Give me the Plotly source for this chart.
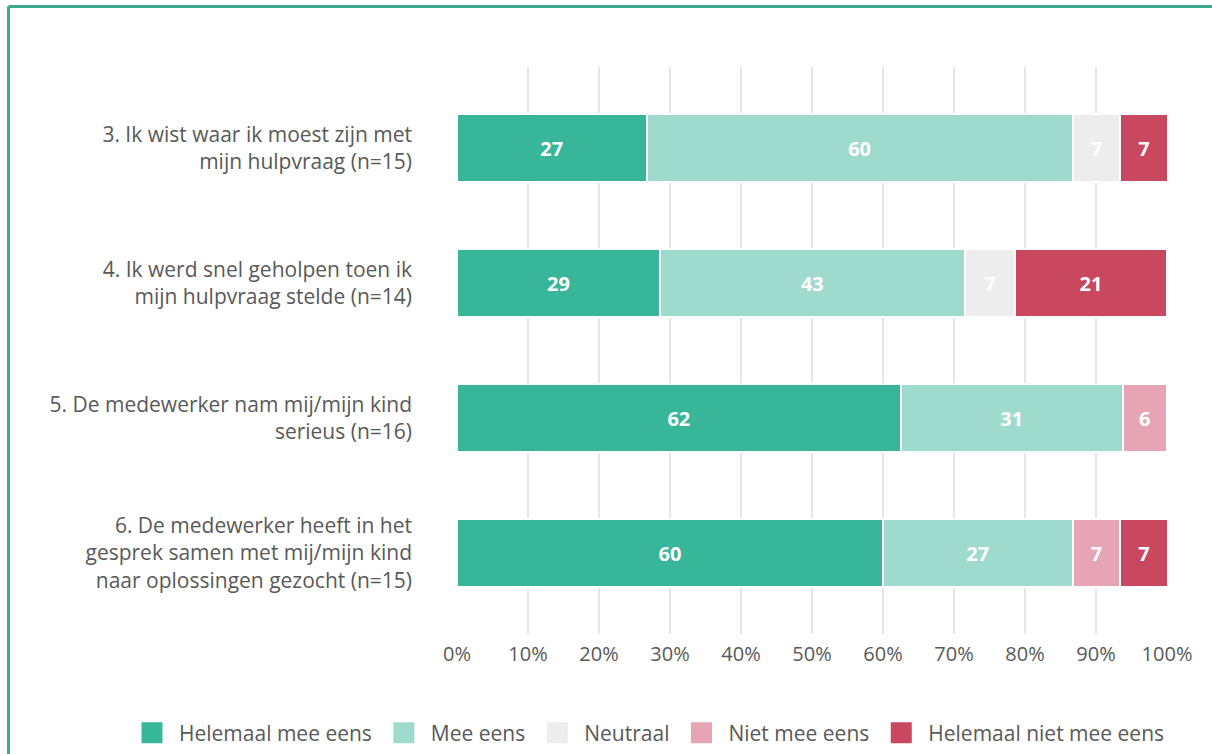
import plotly.graph_objects as go

categories = [
    "3. Ik wist waar ik moest zijn met<br>mijn hulpvraag (n=15)",
    "4. Ik werd snel geholpen toen ik<br>mijn hulpvraag stelde (n=14)",
    "5. De medewerker nam mij/mijn kind<br>serieus (n=16)",
    "6. De medewerker heeft in het<br>gesprek samen met mij/mijn kind<br>naar oplossingen gezocht (n=15)",
]
series_names = ["Helemaal mee eens", "Mee eens", "Neutraal", "Niet mee eens", "Helemaal niet mee eens"]
helemaal_mee_eens = [26.7, 28.6, 62.5, 60.0]
mee_eens = [60.0, 42.9, 31.25, 26.7]
neutraal = [6.7, 7.1, 0, 0]
niet_mee_eens = [0, 0, 6.25, 6.7]
helemaal_niet_mee_eens = [6.7, 21.4, 0, 6.7]
colors = ["#38b699", "#9fdbcd", "#ededed", "#e6a4b4", "#c9475f"]
x_ticks = [0, 10, 20, 30, 40, 50, 60, 70, 80, 90, 100]
x_ticklabels = [f"{t}%" for t in x_ticks]

FONT = "Open Sans"
GRAY = "#595959"
W, H = 1212, 754

fig = go.Figure()
for name, vals, col in zip(series_names,
                           [helemaal_mee_eens, mee_eens, neutraal, niet_mee_eens, helemaal_niet_mee_eens],
                           colors):
    fig.add_trace(go.Bar(
        name=name, y=categories, x=vals, orientation="h", legendgroup=name, showlegend=False,
        marker=dict(color=col, line=dict(color="white", width=2)),
        text=[str(round(v)) if v > 0 else "" for v in vals],
        textposition="inside", insidetextanchor="middle", textangle=0,
        constraintext="none",
        insidetextfont=dict(family=FONT, size=20, color="white", weight="bold"),
        hoverinfo="skip",
    ))
# legend entries with larger square swatches (no data of their own)
for name, col in zip(series_names, colors):
    fig.add_trace(go.Scatter(
        name=name, x=[None], y=[None], mode="markers", legendgroup=name, showlegend=True,
        marker=dict(symbol="square", size=16, color=col, line=dict(color=col, width=5)),
        hoverinfo="skip",
    ))

# pixel -> paper helpers for the frame and legend
L, R, T, B = 457, 1167, 67, 634
def px(x):
    return (x - L) / (R - L)
def py(y):
    return (B - y) / (B - T)

border_col = "#3aa98b"
fig.add_shape(type="line", xref="paper", yref="paper", x0=px(8.5), x1=px(1215), y0=py(6.5), y1=py(6.5),
              line=dict(color=border_col, width=3), layer="above")
fig.add_shape(type="line", xref="paper", yref="paper", x0=px(8.5), x1=px(8.5), y0=py(6.5), y1=py(760),
              line=dict(color=border_col, width=3), layer="above")

fig.update_layout(
    width=W, height=H,
    margin=dict(l=L, r=W - R, t=T, b=H - B, autoexpand=False),
    barmode="stack", bargap=0.5,
    paper_bgcolor="white", plot_bgcolor="white",
    font=dict(family=FONT, size=21, color=GRAY),
    showlegend=True,
    legend=dict(orientation="h", x=px(125), xanchor="left", y=py(733), yanchor="middle",
                font=dict(family=FONT, size=21, color=GRAY), traceorder="normal",
                itemsizing="trace", itemwidth=44, itemclick=False, itemdoubleclick=False),
    xaxis=dict(range=[0, 100], tickvals=x_ticks, ticktext=x_ticklabels, showgrid=True,
               gridcolor="#e6e6e6", gridwidth=2, zeroline=False, showline=False, ticks="",
               ticklabelstandoff=6,
               tickfont=dict(family=FONT, size=20, color=GRAY), fixedrange=True),
    yaxis=dict(range=[3.6, -0.6], showgrid=False, zeroline=False, showline=False, ticks="",
               ticklabelstandoff=44, tickfont=dict(family=FONT, size=21, color=GRAY), fixedrange=True),
)

fig.write_html("out.html", config={"displayModeBar": False},
               post_script="document.body.style.margin='0';document.body.style.overflow='hidden';")
